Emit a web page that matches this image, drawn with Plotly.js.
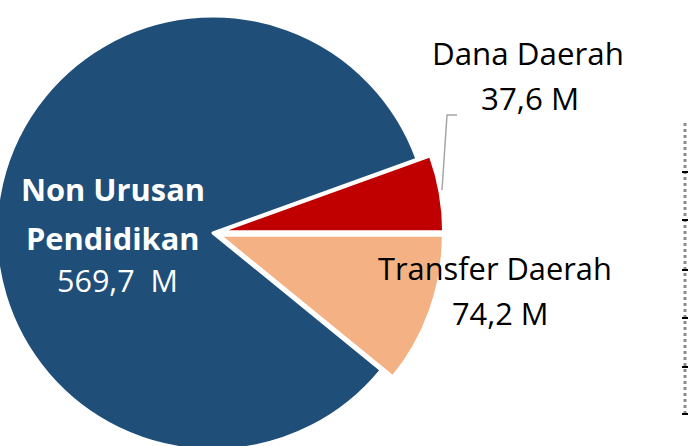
<!DOCTYPE html>
<html><head><meta charset="utf-8">
<script src="https://cdn.plot.ly/plotly-3.0.1.min.js"></script>
<style>
html,body{margin:0;padding:0;overflow:hidden;background:#fff;width:688px;height:446px}
#chart{position:absolute;left:-20px;top:0;width:720px;height:480px}
</style>
</head><body><div id="chart"></div>
<script>
// ---- data ----
const categories = ["Transfer Daerah", "Non Urusan Pendidikan", "Dana Daerah"];
const values = [74.2, 569.7, 37.6];
const valueLabels = ["74,2 M", "569,7  M", "37,6 M"];
const colors = ["#F4B183", "#1F4E79", "#C00000"];
const exploded = [true, false, true];

// ---- geometry helpers (page px -> paper) ----
const OFFX = 20, W = 720, H = 480;
const px = x => (x + OFFX) / W;
const py = y => 1 - y / H;

const cx = 213, cy = 233;
function dom(half) {
  return {x: [px(cx - half), px(cx + half)], y: [py(cy + half), py(cy - half)]};
}
const PULL = 0.03;
const rBase = 217, rExpl = 224;

// base pie: the large (non-exploded) slice
const base = {
  type: 'pie', labels: categories, values: values, sort: false,
  direction: 'clockwise', rotation: 90,
  marker: {
    colors: colors.map((c, i) => exploded[i] ? 'rgba(0,0,0,0)' : c),
    line: {color: '#ffffff', width: exploded.map(e => e ? 0 : 3)}
  },
  textinfo: 'none', hoverinfo: 'label+value', domain: dom(rBase)
};
// exploded slices, slightly larger radius
const expl = {
  type: 'pie', labels: categories, values: values, sort: false,
  direction: 'clockwise', rotation: 90,
  pull: exploded.map(e => e ? PULL : 0),
  marker: {
    colors: colors.map((c, i) => exploded[i] ? c : 'rgba(0,0,0,0)'),
    line: {color: '#ffffff', width: exploded.map(e => e ? 3 : 0)}
  },
  textinfo: 'none', hoverinfo: 'label+value', domain: dom(rExpl * (1 + PULL))
};

const FONT = '"Open Sans", "DejaVu Sans", sans-serif';
function ann(text, x, y, size, color, bold) {
  text = text.replace(/ {2}/g, '\u00a0\u00a0');
  return {
    xref: 'paper', yref: 'paper', x: px(x), y: py(y),
    xanchor: 'center', yanchor: 'middle', showarrow: false,
    text: bold ? '<b>' + text + '</b>' : text,
    font: {family: FONT, size: size, color: color}
  };
}
const nonParts = categories[1].split(' ');
const annotations = [
  ann(nonParts.slice(0, 2).join(' '), 113, 189, 30.8, '#ffffff', true),
  ann(nonParts[2], 113, 238, 30.8, '#ffffff', true),
  ann(valueLabels[1], 117, 280, 30.5, '#ffffff', false),
  ann(categories[2], 527.5, 53, 31.3, '#000000', false),
  ann(valueLabels[2], 530, 98, 31.3, '#000000', false),
  ann(categories[0], 495, 268, 30.8, '#000000', false),
  ann(valueLabels[0], 500, 313, 30.8, '#000000', false)
];

const shapes = [
  {type: 'path', xref: 'paper', yref: 'paper',
   path: `M ${px(442)} ${py(190)} L ${px(447)} ${py(115)} L ${px(457)} ${py(115)}`,
   line: {color: '#A6A6A6', width: 1.5}},
  {type: 'line', xref: 'paper', yref: 'paper',
   x0: px(685), x1: px(685), y0: py(123), y1: py(415),
   line: {color: '#8C8C8C', width: 3, dash: 'dot'}}
];
[172, 220, 270, 318, 367, 414].forEach(t => shapes.push({
  type: 'line', xref: 'paper', yref: 'paper',
  x0: px(682), x1: px(688), y0: py(t), y1: py(t),
  line: {color: '#000000', width: 2}
}));

Plotly.newPlot('chart', [base, expl], {
  width: W, height: H,
  margin: {l: 0, r: 0, t: 0, b: 0},
  showlegend: false,
  paper_bgcolor: '#ffffff',
  annotations: annotations,
  shapes: shapes
}, {displayModeBar: false, staticPlot: true});
</script>
</body></html>
